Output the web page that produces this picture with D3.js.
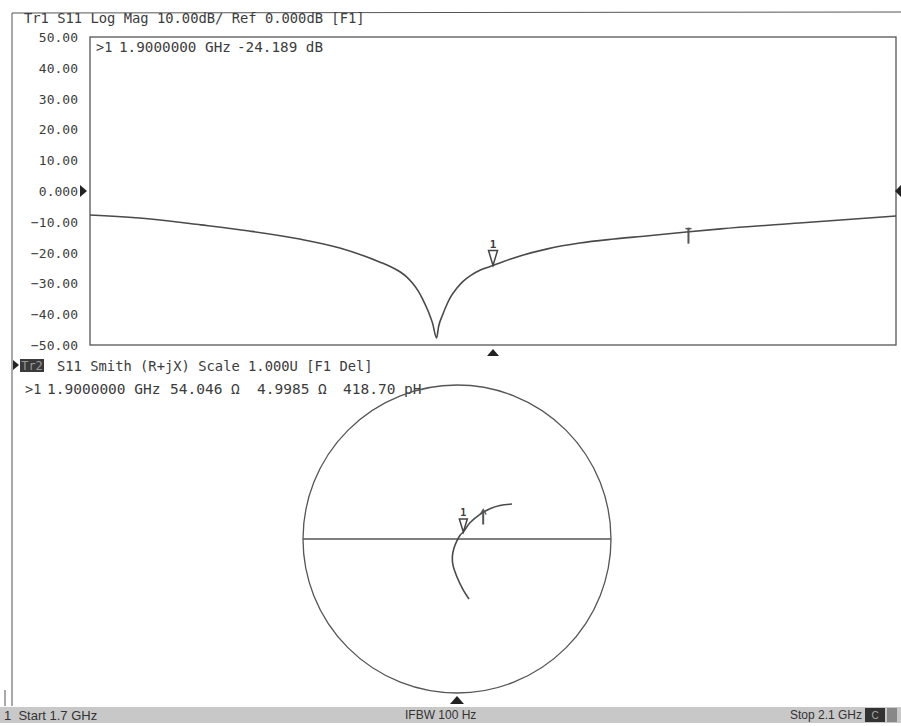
<html>
<meta charset="UTF-8">
<head>
    <title>S11 Log Mag / Smith</title>
    <script src="https://d3js.org/d3.v7.min.js"></script>
    <style>
        body { margin: 0; background: #fff; }
        svg text { font-family: "DejaVu Sans Mono", monospace; fill: #3c3c3c; white-space: pre; }
        .frame { stroke: #555; fill: none; }
        .trace { stroke: #4a4a4a; fill: none; stroke-width: 1.6; }
        .status text { font-family: "Liberation Sans Narrow", "Liberation Sans", sans-serif; fill: #333; }
    </style>
</head>
<body>
<svg id="screen" width="901" height="726"></svg>
<script>
    // trace 1: log mag
    const freqGHz = [1.700, 1.730, 1.755, 1.779, 1.804, 1.824, 1.844, 1.849, 1.854, 1.857, 1.860, 1.863, 1.865, 1.868,
                     1.870, 1.872, 1.873, 1.875, 1.877, 1.879, 1.882, 1.885, 1.889, 1.894, 1.900, 1.910, 1.927, 1.943,
                     1.960, 1.976, 1.996, 2.013, 2.052, 2.100];
    const magDb   = [-7.8, -9.1, -11.0, -13.0, -15.6, -18.5, -23.1, -24.5, -26.3, -27.8, -29.9, -32.6, -35.0, -39.3,
                     -42.9, -47.7, -44.0, -40.2, -37.0, -34.4, -31.6, -29.4, -27.4, -25.6, -24.19, -21.8, -18.8, -16.9,
                     -15.6, -14.6, -13.3, -12.3, -10.4, -8.1];
    const yTicks = [50, 40, 30, 20, 10, 0, -10, -20, -30, -40, -50];

    // trace 2: smith chart reflection coefficient
    const gammaRe = [0.078, 0.040, 0.000, -0.026, -0.030, -0.020, 0.000, 0.020, 0.041, 0.084, 0.149, 0.214, 0.279, 0.357];
    const gammaIm = [-0.390, -0.330, -0.247, -0.170, -0.115, -0.060, -0.010, 0.025, 0.046, 0.105, 0.160, 0.197, 0.218, 0.227];

    // markers
    const markerFreq = [1.900, 1.997];
    const markerDb = [-24.189, -13.2];
    const marker1Z = {r: 54.046, x: 4.9985};
    const marker2Gamma = [0.170, 0.172];

    const svg = d3.select("svg#screen");

    // plot areas
    const box = {left: 90, right: 896, top: 37, bottom: 345};
    const smith = {cx: 457, cy: 539, r: 154};

    const xScale = d3.scaleLinear().domain([1.7, 2.1]).range([box.left, box.right]);
    const yScale = d3.scaleLinear().domain([-50, 50]).range([box.bottom, box.top]);
    const gx = d3.scaleLinear().domain([-1, 1]).range([smith.cx - smith.r, smith.cx + smith.r]);
    const gy = d3.scaleLinear().domain([-1, 1]).range([smith.cy + smith.r, smith.cy - smith.r]);

    // helper for the screen texts
    const label = (x, y, s, size) => svg.append("text").attr("x", x).attr("y", y)
        .attr("dominant-baseline", "central").attr("font-size", size || "13.5px").text(s);

    // outer frame
    svg.append("line").attr("class", "frame").attr("x1", 12).attr("y1", 13).attr("x2", 901).attr("y2", 12);
    svg.append("line").attr("class", "frame").attr("x1", 12).attr("y1", 13).attr("x2", 12).attr("y2", 706);
    svg.append("line").attr("class", "frame").attr("x1", 5).attr("y1", 690).attr("x2", 5).attr("y2", 706);

    // --- Trace 1
    label(24, 18, "Tr1 S11 Log Mag 10.00dB/ Ref 0.000dB [F1]", "13.8px");

    svg.append("rect").attr("class", "frame")
        .attr("x", box.left).attr("y", box.top)
        .attr("width", box.right - box.left).attr("height", box.bottom - box.top)
        .attr("stroke-width", 1.3);

    const fmt = d => d === 0 ? "0.000" : d3.format(".2f")(d);
    const leftAxis = d3.axisLeft(yScale).tickValues(yTicks).tickSize(0).tickPadding(0).tickFormat(fmt);
    const ax = svg.append("g").attr("transform", "translate(78,0)").call(leftAxis);
    ax.select(".domain").remove();
    ax.selectAll("text").attr("font-size", "13px").attr("font-family", "DejaVu Sans Mono")
        .attr("fill", "#555").attr("dy", "0.35em");

    // reference arrows
    svg.append("path").attr("d", `M80,${yScale(0) - 6}L87,${yScale(0)}L80,${yScale(0) + 6}Z`).attr("fill", "#222");
    svg.append("path").attr("d", `M901,${yScale(0) - 6}L895,${yScale(0)}L901,${yScale(0) + 6}Z`).attr("fill", "#222");

    label(96, 47, ">1");
    label(119, 47, "1.9000000 GHz", "14.3px");
    label(237, 47, "-24.189 dB", "14.3px");

    const magData = freqGHz.map((f, i) => [f, magDb[i]]);
    svg.append("path").datum(magData).attr("class", "trace")
        .attr("d", d3.line().x(d => xScale(d[0])).y(d => yScale(d[1])).curve(d3.curveMonotoneX));

    // marker glyphs on trace 1
    const m1x = xScale(markerFreq[0]), m1y = yScale(markerDb[0]);
    svg.append("path").attr("d", `M${m1x - 4.5},${m1y - 15}L${m1x + 4.5},${m1y - 15}L${m1x},${m1y}Z`)
        .attr("fill", "none").attr("stroke", "#444").attr("stroke-width", 1.5);
    svg.append("text").attr("x", m1x).attr("y", m1y - 21).attr("text-anchor", "middle")
        .attr("dominant-baseline", "central").attr("font-size", "11px").attr("font-weight", "bold").text("1");
    const m2x = xScale(markerFreq[1]), m2y = yScale(markerDb[1]);
    svg.append("line").attr("x1", m2x).attr("y1", m2y - 4).attr("x2", m2x).attr("y2", m2y + 12)
        .attr("stroke", "#555").attr("stroke-width", 2);
    svg.append("line").attr("x1", m2x - 3).attr("y1", m2y - 3).attr("x2", m2x + 3).attr("y2", m2y - 3)
        .attr("stroke", "#555").attr("stroke-width", 1.5);
    // stimulus triangle
    svg.append("path").attr("d", `M${m1x - 6},${box.bottom + 11}L${m1x + 6},${box.bottom + 11}L${m1x},${box.bottom + 4}Z`)
        .attr("fill", "#222");

    // --- Trace 2
    svg.append("path").attr("d", "M13,360L19,365L13,370Z").attr("fill", "#222");
    svg.append("rect").attr("x", 20).attr("y", 359).attr("width", 24).attr("height", 13).attr("fill", "#3a3a3a");
    svg.append("text").attr("x", 32).attr("y", 366).attr("text-anchor", "middle").attr("dominant-baseline", "central")
        .attr("font-size", "12px").style("fill", "#999").text("Tr2");
    label(57, 366, "S11 Smith (R+jX) Scale 1.000U [F1 Del]", "13.8px");
    label(25, 389, ">1");
    label(47, 389, "1.9000000 GHz", "14.5px");
    label(170, 389, "54.046 Ω", "14.5px");
    label(257, 389, "4.9985 Ω", "14.5px");
    label(343, 389, "418.70 pH", "14.5px");

    svg.append("circle").attr("class", "frame").attr("cx", gx(0)).attr("cy", gy(0)).attr("r", gx(1) - gx(0))
        .attr("stroke-width", 1.3);
    svg.append("line").attr("class", "frame").attr("x1", gx(-1)).attr("y1", gy(0)).attr("x2", gx(1)).attr("y2", gy(0))
        .attr("stroke-width", 1.3);

    const smithData = gammaRe.map((re, i) => [re, gammaIm[i]]);
    svg.append("path").datum(smithData).attr("class", "trace")
        .attr("d", d3.line().x(d => gx(d[0])).y(d => gy(d[1])).curve(d3.curveCatmullRom));

    // marker 1 from its impedance, Z0 = 50 ohm
    const zr = marker1Z.r / 50, zi = marker1Z.x / 50;
    const den = (zr + 1) * (zr + 1) + zi * zi;
    const g1 = [((zr - 1) * (zr + 1) + zi * zi) / den, (zi * (zr + 1) - (zr - 1) * zi) / den];
    const s1x = gx(g1[0]), s1y = gy(g1[1]);
    svg.append("path").attr("d", `M${s1x - 4},${s1y - 13}L${s1x + 4},${s1y - 13}L${s1x},${s1y}Z`)
        .attr("fill", "none").attr("stroke", "#444").attr("stroke-width", 1.5);
    svg.append("text").attr("x", s1x).attr("y", s1y - 19).attr("text-anchor", "middle")
        .attr("dominant-baseline", "central").attr("font-size", "10px").attr("font-weight", "bold").text("1");
    const s2x = gx(marker2Gamma[0]), s2y = gy(marker2Gamma[1]);
    svg.append("line").attr("x1", s2x).attr("y1", s2y - 2).attr("x2", s2x).attr("y2", s2y + 12)
        .attr("stroke", "#555").attr("stroke-width", 2);
    svg.append("path").attr("d", `M${s2x - 3},${s2y + 2}L${s2x},${s2y - 3}L${s2x + 3},${s2y + 2}`)
        .attr("fill", "none").attr("stroke", "#555").attr("stroke-width", 1.4);

    svg.append("path").attr("d", `M${gx(0) - 7},${gy(-1) + 11}L${gx(0) + 7},${gy(-1) + 11}L${gx(0)},${gy(-1) + 3}Z`)
        .attr("fill", "#222");

    // --- status bar
    const status = svg.append("g").attr("class", "status");
    status.append("rect").attr("x", 0).attr("y", 707).attr("width", 901).attr("height", 16).attr("fill", "#c8c8c8");
    status.append("text").attr("x", 4).attr("y", 715).attr("dominant-baseline", "central").attr("font-size", "13px")
        .text("1  Start 1.7 GHz");
    status.append("text").attr("x", 405).attr("y", 715).attr("dominant-baseline", "central").attr("font-size", "12px")
        .text("IFBW 100 Hz");
    status.append("text").attr("x", 862).attr("y", 715).attr("text-anchor", "end").attr("dominant-baseline", "central")
        .attr("font-size", "12px").text("Stop 2.1 GHz");
    status.append("rect").attr("x", 865).attr("y", 708).attr("width", 20).attr("height", 14).attr("fill", "#333");
    status.append("text").attr("x", 875).attr("y", 715).attr("text-anchor", "middle").attr("dominant-baseline", "central")
        .attr("font-size", "10px").style("fill", "#aaa").text("C");
    status.append("rect").attr("x", 887).attr("y", 708).attr("width", 10).attr("height", 14).attr("fill", "#888");
</script>
</body>
</html>
